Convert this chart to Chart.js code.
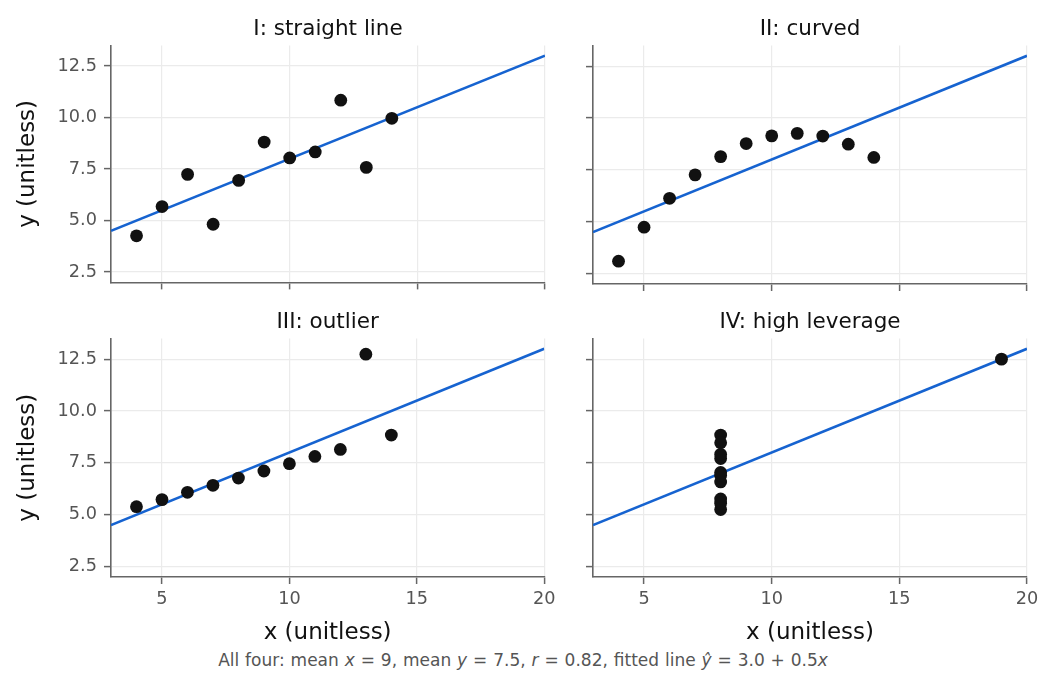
<!DOCTYPE html>
<html>
<head>
<meta charset="utf-8">
<script src="https://cdn.jsdelivr.net/npm/chart.js@4.4.0/dist/chart.umd.min.js"></script>
<style>
  body { margin: 0; background: #fff; width: 1058px; height: 690px; position: relative; overflow: hidden; font-family: "DejaVu Sans", sans-serif; }
  canvas { position: absolute; }
  #note { position: absolute; left: -6px; width: 1058px; top: 650px; text-align: center; font-size: 17px; color: #555; word-spacing: 0.5px; }
</style>
</head>
<body>
<canvas id="c1" width="560" height="300" style="left:0;top:0"></canvas>
<canvas id="c2" width="498" height="300" style="left:560px;top:0"></canvas>
<canvas id="c3" width="560" height="350" style="left:0;top:300px"></canvas>
<canvas id="c4" width="498" height="350" style="left:560px;top:300px"></canvas>
<div id="note">All four: mean <i>x</i> = 9, mean <i>y</i> = 7.5, <i>r</i> = 0.82, fitted line <i>ŷ</i> = 3.0 + 0.5<i>x</i></div>
<script>
// Anscombe's quartet
var xABC = [10, 8, 13, 9, 11, 14, 6, 4, 12, 7, 5];
var yI   = [8.04, 6.95, 7.58, 8.81, 8.33, 9.96, 7.24, 4.26, 10.84, 4.82, 5.68];
var yII  = [9.14, 8.14, 8.74, 8.77, 9.26, 8.10, 6.13, 3.10, 9.13, 7.26, 4.74];
var yIII = [7.46, 6.77, 12.74, 7.11, 7.81, 8.84, 6.08, 5.39, 8.15, 6.42, 5.73];
var xIV  = [8, 8, 8, 8, 8, 8, 8, 19, 8, 8, 8];
var yIV  = [6.58, 5.76, 7.71, 8.84, 8.47, 7.04, 5.25, 12.50, 5.56, 7.91, 6.89];
var fitX = [3, 20];
var fitY = [4.5, 13.0];
var xTicks = [5, 10, 15, 20];
var yTicks = [2.5, 5.0, 7.5, 10.0, 12.5];
var titles = ["I: straight line", "II: curved", "III: outlier", "IV: high leverage"];

Chart.defaults.font.family = "DejaVu Sans";

function pts(xs, ys) {
  return xs.map(function (x, i) { return {x: x, y: ys[i]}; });
}

function makeChart(id, title, xs, ys, p) {
  var ctx = document.getElementById(id);
  return new Chart(ctx, {
    type: "scatter",
    data: {
      datasets: [{
        data: pts(xs, ys),
        backgroundColor: "#111111",
        borderWidth: 0,
        pointRadius: 6.4,
        pointHoverRadius: 6.4
      }, {
        type: "line",
        data: pts(fitX, fitY),
        borderColor: "#1663d0",
        borderWidth: 2.6,
        pointRadius: 0,
        fill: false
      }]
    },
    options: {
      responsive: false,
      devicePixelRatio: 1,
      animation: false,
      events: [],
      layout: { padding: { left: 0, top: 0, bottom: 0, right: p.pr } },
      plugins: {
        legend: { display: false },
        tooltip: { enabled: false },
        title: {
          display: true, text: title, fullSize: false, color: "#111",
          font: { size: 21.5, weight: "normal" },
          padding: { top: p.tp, bottom: 3.2 }
        }
      },
      scales: {
        x: {
          type: "linear", position: "bottom", min: 3, max: 20, bounds: "data",
          afterBuildTicks: function (s) { s.ticks = xTicks.map(function (v) { return {value: v}; }); },
          afterFit: function (s) { s.height = p.xh; },
          ticks: { display: p.showX, color: "#555", font: { size: 17.7 }, padding: 4.5 },
          grid: { color: "#ebebeb", lineWidth: 1.2, tickLength: 7, tickColor: "#666", tickWidth: 1.5 },
          border: { color: "#666", width: 1.6 },
          title: { display: p.showX, text: "x (unitless)", color: "#111", font: { size: 23 }, padding: { top: 0, bottom: 3 } }
        },
        y: {
          type: "linear", position: "left", min: 2, max: 13.5, bounds: "data",
          afterBuildTicks: function (s) { s.ticks = yTicks.map(function (v) { return {value: v}; }); },
          afterFit: function (s) { s.width = p.yw; },
          ticks: { display: p.showY, color: "#555", font: { size: 17.7 }, padding: 7,
            callback: function (v) { return v.toFixed(1); } },
          grid: { color: "#ebebeb", lineWidth: 1.2, tickLength: 7, tickColor: "#666", tickWidth: 1.5 },
          border: { color: "#666", width: 1.6 },
          title: { display: p.showY, text: "y (unitless)", color: "#111", font: { size: 23 }, padding: { top: 14.2, bottom: 0 } }
        }
      }
    }
  });
}

makeChart("c1", titles[0], xABC, yI,   { pr: 15, yw: 111, xh: 16, tp: 16.4, showX: false, showY: true });
makeChart("c2", titles[1], xABC, yII,  { pr: 31, yw: 33,  xh: 16, tp: 16.4, showX: false, showY: false });
makeChart("c3", titles[2], xABC, yIII, { pr: 15, yw: 111, xh: 73, tp: 9.4,  showX: true,  showY: true });
makeChart("c4", titles[3], xIV,  yIV,  { pr: 31, yw: 33,  xh: 73, tp: 9.4,  showX: true,  showY: false });
</script>
</body>
</html>
